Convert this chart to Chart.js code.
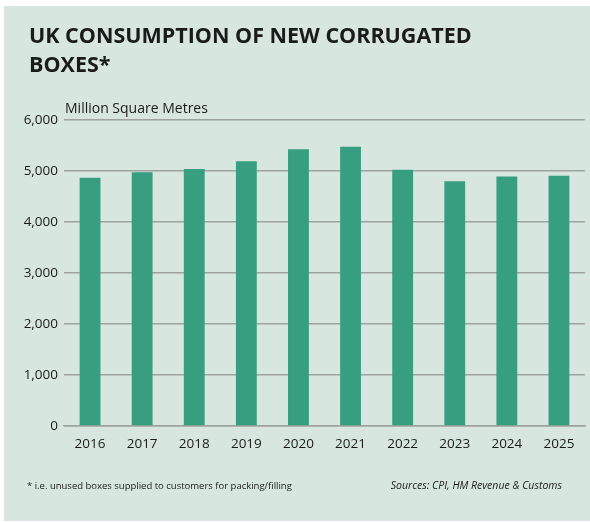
<!DOCTYPE html>
<html>
<head>
<meta charset="utf-8">
<script src="https://cdn.jsdelivr.net/npm/chart.js@4.4.1/dist/chart.umd.min.js"></script>
<style>
  html, body { margin: 0; padding: 0; background: #fff; }
  #wrap { width: 590px; height: 522px; }
</style>
</head>
<body>
<div id="wrap"><canvas id="boxChart"></canvas></div>
<script>
const years = ['2016', '2017', '2018', '2019', '2020', '2021', '2022', '2023', '2024', '2025'];
const consumption = [4870, 4975, 5040, 5190, 5425, 5475, 5025, 4800, 4890, 4905];
const titleLines = ['UK CONSUMPTION OF NEW CORRUGATED', 'BOXES*'];
const unitLabel = 'Million Square Metres';
const footNote = '* i.e. unused boxes supplied to customers for packing/filling';
const sourceNote = 'Sources: CPI, HM Revenue & Customs';

const panelColor = '#d7e6df';
const barColor = '#379f7f';
const textColor = '#1b1b1b';

// background panel plus the text around the plot
const panelText = {
  id: 'panelText',
  beforeDraw(chart) {
    const ctx = chart.ctx;
    ctx.save();
    ctx.fillStyle = '#ffffff';
    ctx.fillRect(0, 0, chart.width, chart.height);
    ctx.fillStyle = panelColor;
    ctx.fillRect(4, 6, chart.width - 4, chart.height - 7);
    ctx.restore();
  },
  afterDraw(chart) {
    const ctx = chart.ctx;
    ctx.save();
    ctx.fillStyle = textColor;
    ctx.textBaseline = 'alphabetic';
    ctx.textAlign = 'left';
    ctx.font = 'bold 21.5px "Open Sans"';
    ctx.fillText(titleLines[0], 29, 43);
    ctx.fillText(titleLines[1], 29, 72);

    ctx.font = '14px "Open Sans"';
    ctx.fillText(unitLabel, 65, 113);

    ctx.font = '9.5px "Open Sans"';
    ctx.fillText(footNote, 27, 489);
    ctx.font = 'italic 10.5px "Open Sans"';
    ctx.textAlign = 'right';
    ctx.fillText(sourceNote, 562, 489);
    ctx.restore();
  }
};

new Chart(document.getElementById('boxChart'), {
  type: 'bar',
  data: {
    labels: years,
    datasets: [{
      data: consumption,
      backgroundColor: barColor,
      borderWidth: 0,
      barPercentage: 0.8,
      categoryPercentage: 0.5
    }]
  },
  options: {
    responsive: true,
    maintainAspectRatio: false,
    animation: false,
    layout: { padding: { top: 120, left: 0, right: 5, bottom: 0 } },
    plugins: {
      legend: { display: false },
      tooltip: { enabled: false }
    },
    scales: {
      x: {
        grid: { display: false },
        border: { display: true, color: '#9fa3a0', width: 1.5 },
        ticks: {
          color: textColor,
          font: { family: 'Open Sans', size: 13.5 },
          padding: 2,
          maxRotation: 0
        },
        afterFit(scale) { scale.height = 96; }
      },
      y: {
        min: 0,
        max: 6000,
        border: { display: false },
        grid: { color: '#9fa3a0', lineWidth: 1.5, drawTicks: false },
        ticks: {
          stepSize: 1000,
          color: textColor,
          font: { family: 'Open Sans', size: 13.5 },
          padding: 6,
          callback: v => v.toLocaleString('en-GB')
        },
        afterFit(scale) { scale.width = 64; }
      }
    }
  },
  plugins: [panelText]
});
</script>
</body>
</html>
